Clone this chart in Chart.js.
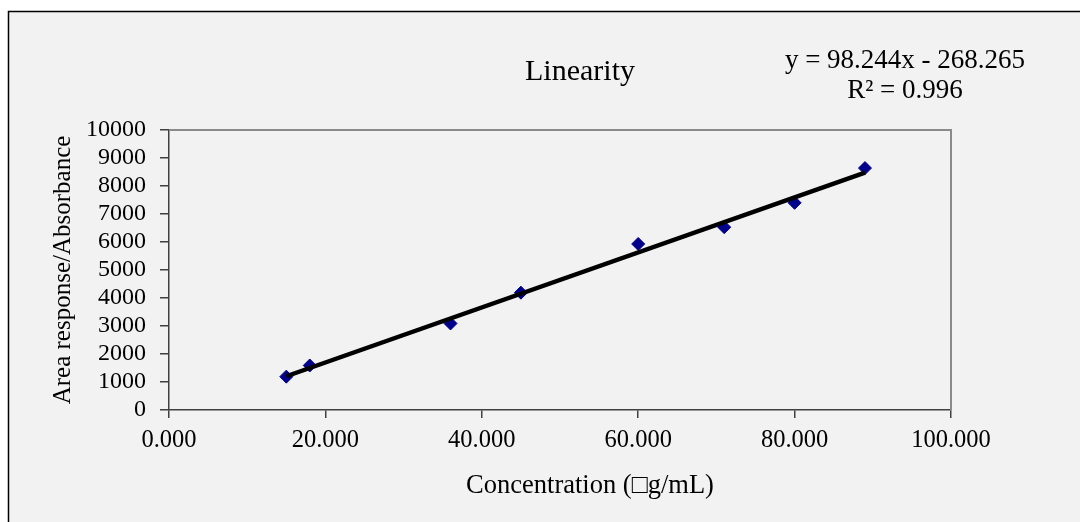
<!DOCTYPE html>
<html>
<head>
<meta charset="utf-8">
<title>Linearity</title>
<script src="https://cdn.jsdelivr.net/npm/chart.js@4.4.1/dist/chart.umd.min.js"></script>
<style>
  html, body { margin: 0; padding: 0; background: #ffffff; }
  #wrap { width: 1080px; height: 522px; }
</style>
</head>
<body>
<div id="wrap"><canvas id="linearity-chart" width="1080" height="522"></canvas></div>
<script>
'use strict';

// Data ********** //
let concentrations = [15, 18, 36, 45, 60, 71, 80, 89];
let areaResponses = [1190, 1590, 3090, 4190, 5930, 6530, 7400, 8640];
let xTicks = [0, 20, 40, 60, 80, 100];
let yTicks = [0, 1000, 2000, 3000, 4000, 5000, 6000, 7000, 8000, 9000, 10000];

// trendline as printed on the chart
let slope = 98.244;
let intercept = -268.265;
let rSquared = 0.996;

let serif = '"Liberation Serif", "Times New Roman", serif';
let ctx = document.getElementById('linearity-chart');

// trendline runs over the measured range only
let xFirst = Math.min(...concentrations);
let xLast = Math.max(...concentrations);
let trendPoints = [
  {x: xFirst, y: slope * xFirst + intercept},
  {x: xLast, y: slope * xLast + intercept}
];

let points = [];
for (let i = 0; i < concentrations.length; i++) {
  points.push({x: concentrations[i], y: areaResponses[i]});
}

// Plugins ********** //
let backgroundPlugin = {
  id: 'panel',
  beforeDraw(chart) {
    let c = chart.ctx;
    c.save();
    c.fillStyle = '#ffffff';
    c.fillRect(0, 0, chart.width, chart.height);
    c.fillStyle = '#f2f2f2';
    c.fillRect(8, 11, chart.width - 8, chart.height - 11);
    c.strokeStyle = '#000000';
    c.lineWidth = 1.5;
    c.beginPath();
    c.moveTo(8.5, chart.height);
    c.lineTo(8.5, 11.5);
    c.lineTo(chart.width, 11.5);
    c.stroke();
    c.restore();
  },
  beforeDatasetsDraw(chart) {
    // grey top + right edge of the plot box
    let a = chart.chartArea;
    let c = chart.ctx;
    c.save();
    c.strokeStyle = '#8a8a8a';
    c.lineWidth = 2;
    c.beginPath();
    c.moveTo(a.left, a.top);
    c.lineTo(a.right, a.top);
    c.lineTo(a.right, a.bottom);
    c.stroke();
    c.restore();
  }
};

let textPlugin = {
  id: 'labels',
  afterDraw(chart) {
    let c = chart.ctx;
    c.save();
    c.fillStyle = '#000000';
    c.textAlign = 'center';
    c.textBaseline = 'alphabetic';

    c.font = '30px ' + serif;
    c.fillText('Linearity', 580, 80);

    c.font = '27px ' + serif;
    c.fillText('y = ' + slope + 'x - ' + Math.abs(intercept), 905, 68);
    c.fillText('R\u00b2 = ' + rSquared, 905, 98);

    c.font = '26.5px ' + serif;
    c.fillText('Concentration (\u25a1g/mL)', 590, 493);
    c.restore();
  }
};

// Chart ********** //
let chartObj = {
  type: 'scatter',
  data: {
    datasets: [
      {
        label: 'Trendline',
        data: trendPoints,
        showLine: true,
        borderColor: '#000000',
        borderWidth: 4.5,
        pointRadius: 0,
        order: 0
      },
      {
        label: 'Area response',
        data: points,
        pointStyle: 'rectRot',
        pointRadius: 6.5,
        backgroundColor: '#00008b',
        borderColor: '#00008b',
        borderWidth: 1,
        order: 1
      }
    ]
  },
  options: {
    responsive: false,
    animation: false,
    devicePixelRatio: 1,
    layout: {
      padding: {left: 45, top: 130, right: 129, bottom: 0}
    },
    plugins: {
      legend: {display: false},
      tooltip: {enabled: false}
    },
    scales: {
      x: {
        type: 'linear',
        min: xTicks[0],
        max: xTicks[xTicks.length - 1],
        afterBuildTicks: scale => { scale.ticks = xTicks.map(v => ({value: v})); },
        afterFit: scale => { scale.height = 112; },
        grid: {drawOnChartArea: false, tickLength: 8, color: '#404040', lineWidth: 1.5},
        border: {color: '#404040', width: 1.5},
        ticks: {
          padding: 8,
          autoSkip: false,
          color: '#000000',
          font: {family: serif, size: 24.5},
          maxRotation: 0,
          callback: value => value.toFixed(3)
        }
      },
      y: {
        type: 'linear',
        min: yTicks[0],
        max: yTicks[yTicks.length - 1],
        afterBuildTicks: scale => { scale.ticks = yTicks.map(v => ({value: v})); },
        afterFit: scale => { scale.width = 124; },
        grid: {drawOnChartArea: false, tickLength: 9, color: '#404040', lineWidth: 1.5},
        border: {color: '#404040', width: 1.5},
        ticks: {
          padding: 14,
          autoSkip: false,
          color: '#000000',
          font: {family: serif, size: 24},
          callback: value => String(value)
        },
        title: {
          display: true,
          text: 'Area response/Absorbance',
          color: '#000000',
          font: {family: serif, size: 25},
          padding: {top: 3, bottom: 0}
        }
      }
    }
  },
  plugins: [backgroundPlugin, textPlugin]
};

new Chart(ctx, chartObj);
</script>
</body>
</html>
